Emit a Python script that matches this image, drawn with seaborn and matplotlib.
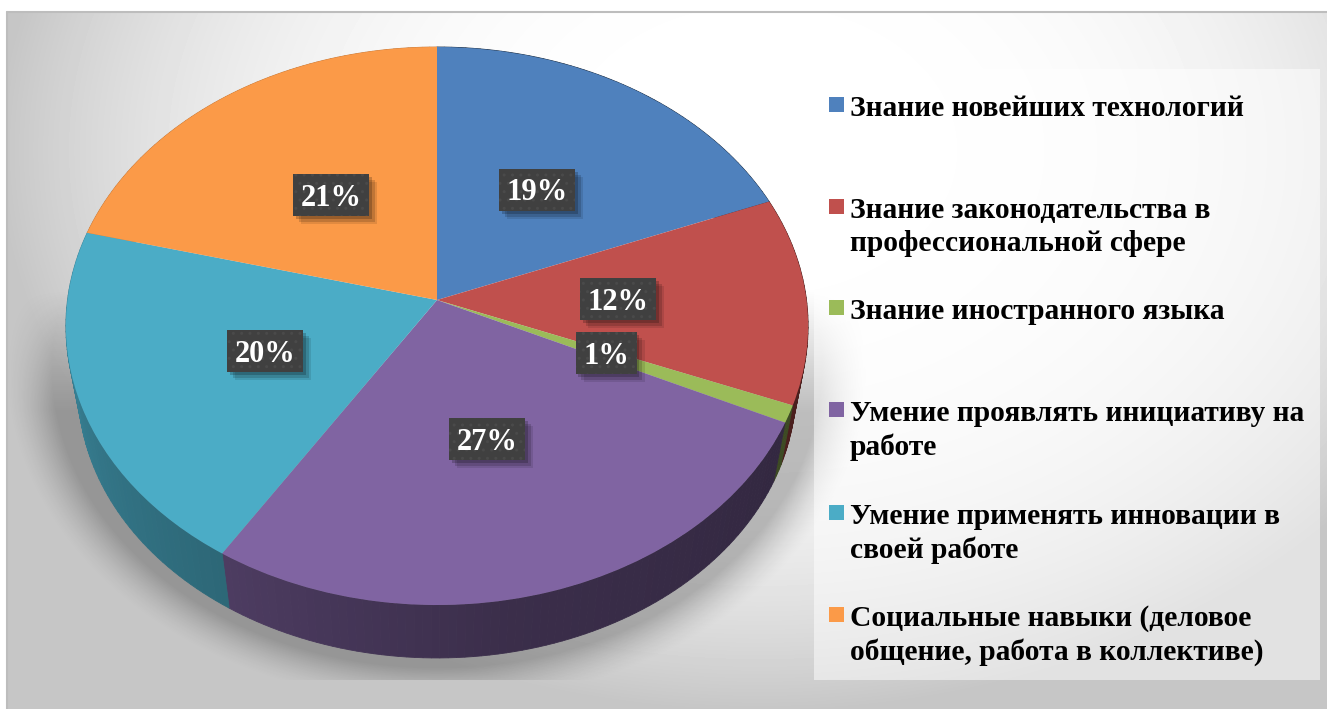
import numpy as np
import seaborn as sns
import matplotlib.pyplot as plt
import matplotlib.patheffects as pe
from matplotlib.patches import Rectangle
from matplotlib.transforms import Transform

categories = ['Знание новейших технологий',
              'Знание законодательства в\nпрофессиональной сфере',
              'Знание иностранного языка',
              'Умение проявлять инициативу на\nработе',
              'Умение применять инновации в\nсвоей работе',
              'Социальные навыки (деловое\nобщение, работа в коллективе)']
values = [19, 12, 1, 27, 20, 21]
colors = ['#4F81BD', '#C0504D', '#9BBB59', '#8064A2', '#4BACC6', '#FB9A48']

# centres of the percent boxes, legend rows (pixels)
label_xy = [(537, 190), (618, 299), (606, 353), (487, 439), (265, 351), (331, 195)]
legend_y = [105, 207, 308, 410, 513, 615]

CX, CY = 437, 300
A, B, K = 369.5, 276.6, 0.0932


def project(u, v, scale=1.0, drop=0.0):
    # unit circle -> tilted pie face, far side squeezed like in the picture
    w = 1 + K * v
    return CX + scale * A * u / w, CY + drop - scale * B * v / w


class TiltTransform(Transform):
    input_dims = output_dims = 2

    def transform_non_affine(self, xy):
        xy = np.asarray(xy, dtype=float)
        x, y = project(xy[:, 0], xy[:, 1])
        return np.column_stack([x, y])


sns.set_theme(style='white')
plt.rcParams['font.family'] = ['Liberation Serif', 'DejaVu Serif']

fig = plt.figure(figsize=(13.27, 7.09), dpi=100)
ax = fig.add_axes([0, 0, 1, 1])

wedges, _ = ax.pie(values, colors=colors, startangle=90, counterclock=False,
                   wedgeprops=dict(linewidth=0), normalize=True)
for w in wedges:
    w.set_transform(TiltTransform() + ax.transData)
    w.set_zorder(3)
ax.set_aspect('auto')

# background + soft shadow
gx, gy = np.meshgrid(np.arange(7, 1327) + .5, np.arange(12, 709) + .5)
r = np.minimum(np.sqrt(((gx - 760) / 760) ** 2 + ((gy - 150) / 560) ** 2), 1)
grey = (255 - 57 * r ** 3) / 255
ax.imshow(grey, extent=(7, 1327, 709, 12), cmap='gray', vmin=0, vmax=1, zorder=0, aspect='auto')

d = (np.sqrt(((gx - 437) / 385) ** 2 + ((gy - 368) / 300) ** 2) - 1) * 340
shadow = np.clip(1 - d / 42, 0, 1) ** 1.5 * np.clip((gy - 290) / 120, 0, 1) * 0.24
shadow[gy > 680] = 0
rgba = np.zeros(gx.shape + (4,))
rgba[..., 3] = shadow
ax.imshow(rgba, extent=(7, 1327, 709, 12), zorder=1, aspect='auto')

ax.plot([7, 1327], [12, 12], color='#bdbdbd', lw=1.5, zorder=2)
ax.plot([7, 7], [12, 709], color='#bdbdbd', lw=1.5, zorder=2)

# side of the pie, strip by strip
edges = np.cumsum([0] + values) / sum(values) * 2 * np.pi
for i, col in enumerate(colors):
    base = np.array(plt.matplotlib.colors.to_rgb(col))
    th = np.linspace(edges[i], edges[i + 1], max(values[i] * 3, 4))
    for t0, t1 in zip(th[:-1], th[1:]):
        deg = np.degrees((t0 + t1) / 2)
        f = np.interp(deg, [100, 170, 212, 285], [0.38, 0.46, 0.60, 0.80])
        u, v = np.sin([t0, t1]), np.cos([t0, t1])
        x0, y0 = project(u, v)
        x1, y1 = project(u, v, scale=0.967, drop=63)
        c = base * f
        ax.fill([x0[0], x0[1], x1[1], x1[0]], [y0[0], y0[1], y1[1], y1[0]],
                color=c, lw=0.6, zorder=2.5)

# legend panel
ax.fill([814, 1320, 1320, 814], [69, 69, 680, 680], color='white', alpha=0.5, lw=0, zorder=4)
for name, col, y in zip(categories, colors, legend_y):
    ax.fill([829, 844, 844, 829], [y - 8, y - 8, y + 7, y + 7], color=col, lw=0, zorder=5)
    ax.text(850, y - 10, name, fontsize=21.25, fontweight='bold', color='black', va='top', ha='left',
            linespacing=1.3, zorder=5)

# percent labels: plain box with shadow, dotted box over it, then the text
for val, (x, y) in zip(values, label_xy):
    txt = f'{val}%'
    bw = 76 if len(txt) == 3 else 61
    box = Rectangle((x - bw / 2, y - 21), bw, 42, facecolor='#404040', linewidth=0, zorder=6)
    box.set_path_effects([
        pe.SimplePatchShadow(offset=(6, -6), shadow_rgbFace='black', alpha=0.10),
        pe.SimplePatchShadow(offset=(4, -4), shadow_rgbFace='black', alpha=0.15),
        pe.SimplePatchShadow(offset=(2, -2), shadow_rgbFace='black', alpha=0.20),
        pe.Normal()])
    ax.add_patch(box)
    ax.add_patch(Rectangle((x - bw / 2, y - 21), bw, 42, facecolor='none', edgecolor='#4a4a4a',
                           hatch='..', linewidth=0, zorder=6.1))
    ax.text(x, y + 3, txt, fontsize=22, fontweight='bold', color='white', ha='center', va='center',
            zorder=6.2)

ax.set_xlim(0, 1327)
ax.set_ylim(709, 0)
ax.axis('off')
fig.savefig('out.png', dpi=100, facecolor='white')
